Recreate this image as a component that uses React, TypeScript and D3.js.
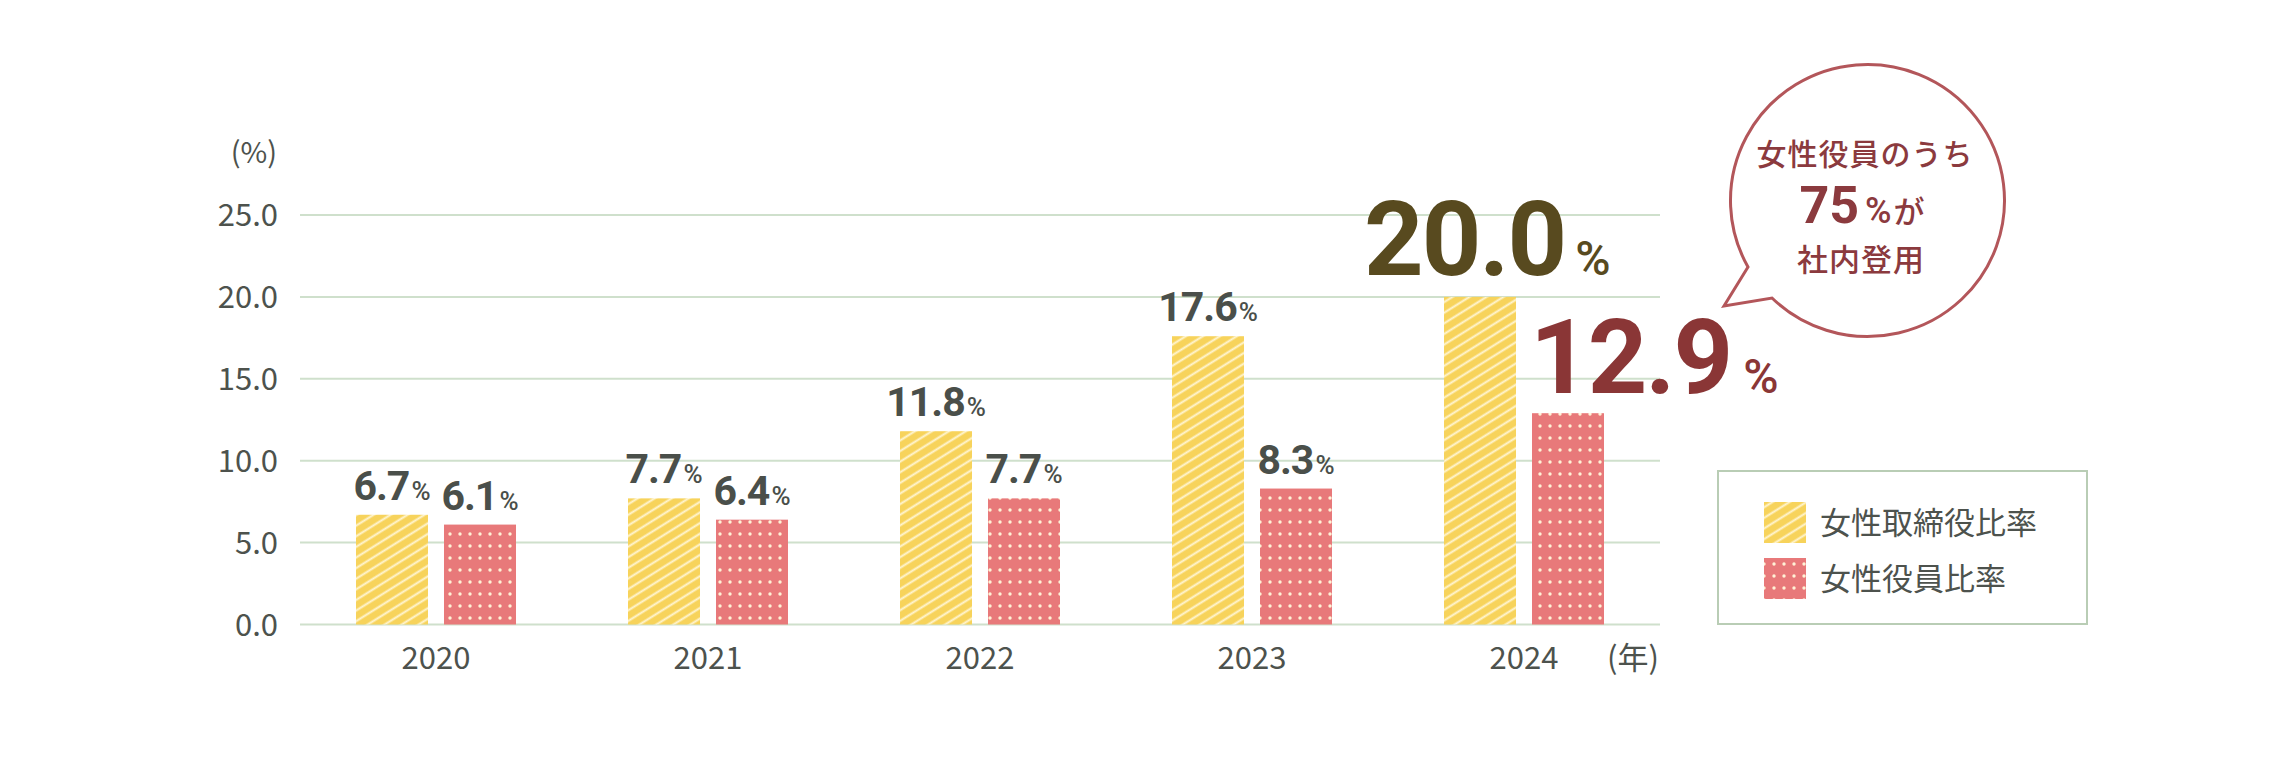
import * as d3 from "d3";

const years = ["2020", "2021", "2022", "2023", "2024"];
const directorRatio = [6.7, 7.7, 11.8, 17.6, 20.0];
const officerRatio = [6.1, 6.4, 7.7, 8.3, 12.9];
const yTicks = [0, 5, 10, 15, 20, 25];
const seriesKeys = ["director", "officer"];
const seriesNames = ["女性取締役比率", "女性役員比率"];
const bubbleTop = "女性役員のうち";
const bubbleShare = "75";
const bubbleBottom = "社内登用";

const W = 2280;
const H = 758;
const JP = "'Noto Sans CJK JP', 'Noto Sans', sans-serif";
const NUM = "Roboto, 'Noto Sans', sans-serif";
const TEXT = "#4d524d";
const GRID = "#cfe0cc";

const fmt = d3.format(".1f");

const App = () => {
  const x = d3.scaleBand().domain(years).range([300, 1660]);
  const x1 = d3
    .scaleBand()
    .domain(seriesKeys)
    .range([-80, 80])
    .paddingInner(0.1818);
  const y = d3.scaleLinear().domain([0, 25]).range([624.5, 215]);

  const series = [
    { key: "director", values: directorRatio, fill: "url(#stripes)" },
    { key: "officer", values: officerRatio, fill: "url(#dots)" },
  ];
  const last = years.length - 1;
  const cx = (yr: string) => (x(yr) as number) + x.bandwidth() / 2;

  return (
    <svg
      width={W}
      height={H}
      style={{ position: "absolute", left: 0, top: 0, background: "#fff" }}
    >
      <defs>
        <pattern
          id="stripes"
          width="10"
          height="9"
          patternUnits="userSpaceOnUse"
          patternTransform="rotate(-32)"
        >
          <rect width="10" height="9" fill="#f7d35b" />
          <line x1="0" y1="4.5" x2="10" y2="4.5" stroke="#fff5d2" strokeWidth="2" />
        </pattern>
        <pattern id="dots" x="5" y="0" width="10" height="12" patternUnits="userSpaceOnUse">
          <rect width="10" height="12" fill="#e8797a" />
          <circle cx="5" cy="6" r="1.7" fill="#fff2d6" />
        </pattern>
      </defs>

      {/* y axis */}
      <text x={277} y={163} textAnchor="end" fontFamily={JP} fontSize={29} fill={TEXT}>
        (%)
      </text>
      {yTicks.map((t) => (
        <g key={t}>
          <line x1={300} x2={1660} y1={y(t)} y2={y(t)} stroke={GRID} strokeWidth={2} />
          <text
            x={278}
            y={y(t) + 11}
            textAnchor="end"
            fontFamily={JP}
            fontSize={31}
            fill={TEXT}
          >
            {fmt(t)}
          </text>
        </g>
      ))}

      {/* bars */}
      {series.map((s) =>
        years.map((yr, i) => (
          <rect
            key={s.key + yr}
            x={cx(yr) + (x1(s.key) as number)}
            y={y(s.values[i])}
            width={x1.bandwidth()}
            height={y(0) - y(s.values[i])}
            fill={s.fill}
          />
        ))
      )}

      {/* value labels */}
      {series.map((s) =>
        years.map((yr, i) =>
          i === last ? null : (
            <text
              key={"l" + s.key + yr}
              x={cx(yr) + (x1(s.key) as number) + x1.bandwidth() / 2}
              y={y(s.values[i]) - 15}
              textAnchor="middle"
              fontFamily={NUM}
              fill="#4a4f4a"
            >
              <tspan fontSize={41} fontWeight={700} letterSpacing={-1}>
                {fmt(s.values[i])}
              </tspan>
              <tspan fontSize={26} fontWeight={500} dx={2}>
                %
              </tspan>
            </text>
          )
        )
      )}

      {/* highlighted 2024 labels */}
      <text
        x={cx(years[last]) + (x1("director") as number) - 80}
        y={y(directorRatio[last]) - 22}
        fontFamily={NUM}
        fill="#584a1f"
      >
        <tspan fontSize={104} fontWeight={700} letterSpacing={-2}>
          {fmt(directorRatio[last])}
        </tspan>
        <tspan fontSize={48} fontWeight={500} dx={10}>
          %
        </tspan>
      </text>
      <text
        x={cx(years[last]) + (x1("officer") as number) - 2}
        y={y(officerRatio[last]) - 20}
        fontFamily={NUM}
        fill="#8a3636"
      >
        <tspan fontSize={104} fontWeight={700} letterSpacing={-2}>
          {fmt(officerRatio[last])}
        </tspan>
        <tspan fontSize={48} fontWeight={500} dx={12}>
          %
        </tspan>
      </text>

      {/* x axis labels */}
      {years.map((yr) => (
        <text
          key={"x" + yr}
          x={cx(yr)}
          y={669}
          textAnchor="middle"
          fontFamily={JP}
          fontSize={31}
          fill={TEXT}
        >
          {yr}
        </text>
      ))}
      <text x={1607} y={669} fontFamily={JP} fontSize={31} fill={TEXT}>
        (年)
      </text>

      {/* speech bubble */}
      <path
        d="M1748,267 L1724,306 L1772,298 A137,136 0 1 0 1748,267 Z"
        fill="#fff"
        stroke="#b3565a"
        strokeWidth={3}
        strokeLinejoin="miter"
      />
      <g fill="#8b3a3e" textAnchor="middle" fontFamily={JP}>
        <text x={1865} y={165} fontSize={30} fontWeight={500} letterSpacing={1}>
          {bubbleTop}
        </text>
        <text x={1862} y={223}>
          <tspan fontFamily={NUM} fontSize={52} fontWeight={700}>
            {bubbleShare}
          </tspan>
          <tspan fontFamily={NUM} fontSize={36} fontWeight={500} dx={6}>
            %
          </tspan>
          <tspan fontSize={31} fontWeight={500} dx={2}>
            が
          </tspan>
        </text>
        <text x={1861} y={271} fontSize={31} fontWeight={500} letterSpacing={1}>
          {bubbleBottom}
        </text>
      </g>

      {/* legend */}
      <rect x={1718} y={471} width={369} height={153} fill="#fff" stroke="#b9cdb5" strokeWidth={2} />
      {seriesNames.map((name, i) => (
        <g key={name} transform={`translate(1764,${502 + i * 56})`}>
          <rect width={42} height={41} fill={series[i].fill} />
          <text x={56} y={32} fontFamily={JP} fontSize={31} fill={TEXT}>
            {name}
          </text>
        </g>
      ))}
    </svg>
  );
};

export default App;
